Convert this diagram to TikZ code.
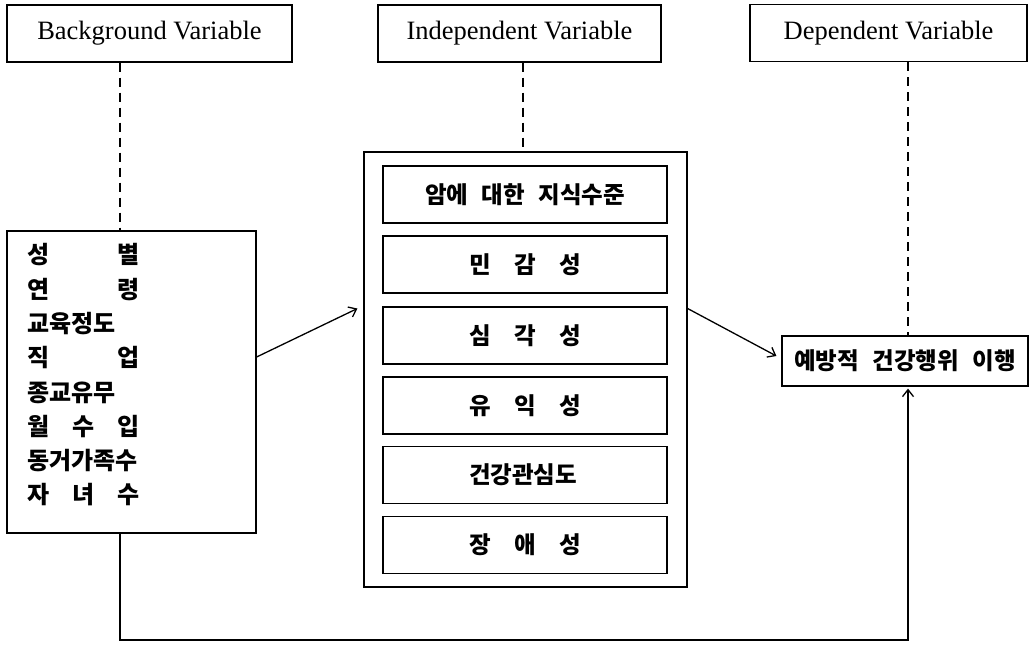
\documentclass[tikz,border=0pt]{standalone}
\usepackage{fontspec}
\setmainfont{Liberation Serif}
\newfontfamily\kr{Noto Sans CJK KR}[WordSpace=2.5]
\usetikzlibrary{arrows.meta, calc}
\newcommand{\spreadfive}[1]{\makebox[112pt][s]{#1}}
\tikzset{
  varbox/.style = {draw, line width=1.2pt, minimum height=57pt, font=\fontsize{26.5}{30}\selectfont},
  itembox/.style = {draw, line width=1.2pt, minimum width=284pt, minimum height=57pt, font=\kr\bfseries\fontsize{23.5}{28}\selectfont},
  link/.style = {line width=1.4pt, dash pattern=on 9pt off 6pt},
  flow/.style = {line width=1.3pt, -{Straight Barb[length=7pt, width=11pt]}}
}

\begin{document}
\begin{tikzpicture}[x=1pt, y=-1pt]
\useasboundingbox (0,0) rectangle (1030,645);
% variable headings
\node[varbox, minimum width=285pt] (bgvar) at (149.5,33.5) {Background Variable};
\node[varbox, minimum width=283pt] (indvar) at (519.5,33.5) {Independent Variable};
\node[varbox, minimum width=277pt] (depvar) at (888.5,33) {Dependent Variable};
% background variables
\node[draw, line width=1.2pt, minimum width=249pt, minimum height=302pt] (bgbox) at (131.5,382) {};
\node[anchor=north west, inner sep=0pt, align=left, font=\kr\bfseries\fontsize{24}{34.3}\selectfont]
  (bglist) at ([shift={(21pt,-13pt)}]bgbox.north west) {%
  \spreadfive{성\hfill 별}\\
  \spreadfive{연\hfill 령}\\
  \makebox[112pt][l]{교육정도}\\
  \spreadfive{직\hfill 업}\\
  \makebox[112pt][l]{종교유무}\\
  \spreadfive{월\hfill 수\hfill 입}\\
  \spreadfive{동거가족수}\\
  \spreadfive{자\hfill 녀\hfill 수}};
% independent variables
\node[draw, line width=1.2pt, minimum width=323pt, minimum height=435pt] (outer) at (525.5,369.5) {};
\foreach \y/\name/\txt in {194.5/knowl/{암에 대한 지식수준},
                           264.5/suscept/{\spreadfive{민\hfill 감\hfill 성}},
                           335.5/serious/{\spreadfive{심\hfill 각\hfill 성}},
                           405.5/benefit/{\spreadfive{유\hfill 익\hfill 성}},
                           475/concern/{\spreadfive{건강관심도}},
                           545/barrier/{\spreadfive{장\hfill 애\hfill 성}}}
  \node[itembox] (\name) at (525,\y) {\txt};
% dependent variable
\node[draw, line width=1.2pt, minimum width=246pt, minimum height=50pt, font=\kr\bfseries\fontsize{23.5}{28}\selectfont]
  (act) at (905,361) {예방적 건강행위 이행};

\coordinate (bgaxis) at (120,0);
\coordinate (indaxis) at (523,0);
\coordinate (depaxis) at (908,0);
\coordinate (floor) at (0,640);

\draw[link] (bgvar.south -| bgaxis) -- (bgbox.north -| bgaxis);
\draw[link] (indvar.south -| indaxis) -- (outer.north -| indaxis);
\draw[link] (depvar.south -| depaxis) -- (act.north -| depaxis);

\draw[flow] ([yshift=25pt]bgbox.east) -- ([shift={(-6pt,61pt)}]outer.west);
\draw[flow] ([yshift=61pt]outer.east) -- ([shift={(-5pt,5pt)}]act.west);
\draw[flow] (bgbox.south -| bgaxis) |- (floor -| depaxis) -- ($(act.south -| depaxis)+(0,2)$);
\end{tikzpicture}
\end{document}
